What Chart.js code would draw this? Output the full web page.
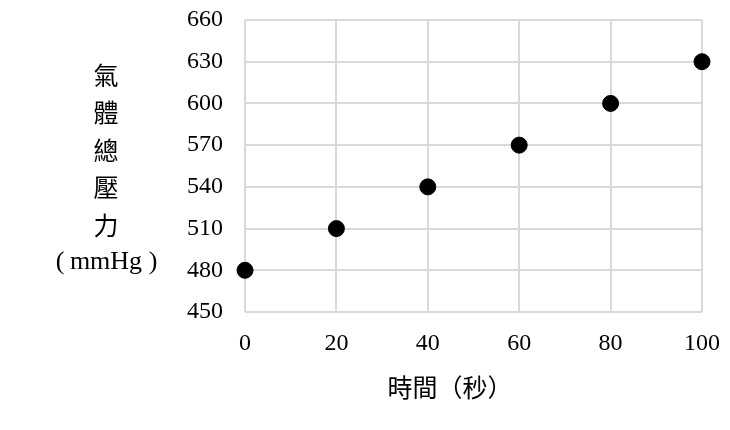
<!DOCTYPE html>
<html>
<head>
<meta charset="utf-8">
<script src="https://cdn.jsdelivr.net/npm/chart.js@4"></script>
<style>
html,body{margin:0;padding:0;background:#fff;}
#wrap{width:730px;height:430px;position:relative;}
</style>
</head>
<body>
<div id="wrap"><canvas id="c"></canvas></div>
<script>
const timeSec = [0, 20, 40, 60, 80, 100];
const pressure = [480, 510, 540, 570, 600, 630];
const yTitleLines = ['氣', '體', '總', '壓', '力'];
const yTitleUnit = 'mmHg';
const xTitle = '時間（秒）';

const serif = '"Liberation Serif", "Times New Roman", serif';
const cjk = '"Noto Sans CJK TC", "Noto Sans CJK SC", sans-serif';

const titlesPlugin = {
  id: 'titles',
  afterDraw(chart) {
    const ctx = chart.ctx;
    ctx.save();
    ctx.fillStyle = '#000';
    ctx.textBaseline = 'middle';
    ctx.textAlign = 'center';
    ctx.font = '25px ' + cjk;
    const cx = 106, yStart = 75, step = 37.5;
    yTitleLines.forEach((t, i) => {
      ctx.fillText(t, cx, yStart + i * step);
    });
    const yU = yStart + yTitleLines.length * step;
    ctx.font = '26px ' + serif;
    ctx.fillText(yTitleUnit, cx, yU);
    ctx.fillText('(', 60, yU);
    ctx.fillText(')', 153, yU);
    ctx.font = '25px ' + cjk;
    ctx.fillText(xTitle, 450, 387);
    ctx.restore();
  }
};

new Chart(document.getElementById('c'), {
  type: 'scatter',
  data: {
    datasets: [{
      data: timeSec.map((x, i) => ({x: x, y: pressure[i]})),
      backgroundColor: '#000',
      borderColor: '#000',
      pointRadius: 8,
      pointHoverRadius: 8,
      clip: false
    }]
  },
  options: {
    responsive: true,
    maintainAspectRatio: false,
    animation: false,
    plugins: { legend: {display: false}, tooltip: {enabled: false} },
    layout: { padding: {left: 0, right: 28, top: 20, bottom: 0} },
    scales: {
      x: {
        type: 'linear', min: 0, max: 100,
        ticks: { stepSize: 20, color: '#000', font: {family: serif, size: 24}, padding: 17, maxRotation: 0 },
        grid: { color: '#d9d9d9', lineWidth: 2, drawTicks: false },
        border: { display: false },
        afterFit(s) { s.height = 118; s.paddingLeft = 0; s.paddingRight = 0; }
      },
      y: {
        min: 450, max: 660,
        ticks: { stepSize: 30, color: '#000', font: {family: serif, size: 24}, padding: 22 },
        grid: { color: '#d9d9d9', lineWidth: 2, drawTicks: false },
        border: { display: false },
        afterFit(s) { s.width = 245; s.paddingTop = 0; s.paddingBottom = 0; }
      }
    }
  },
  plugins: [titlesPlugin]
});
</script>
</body>
</html>
